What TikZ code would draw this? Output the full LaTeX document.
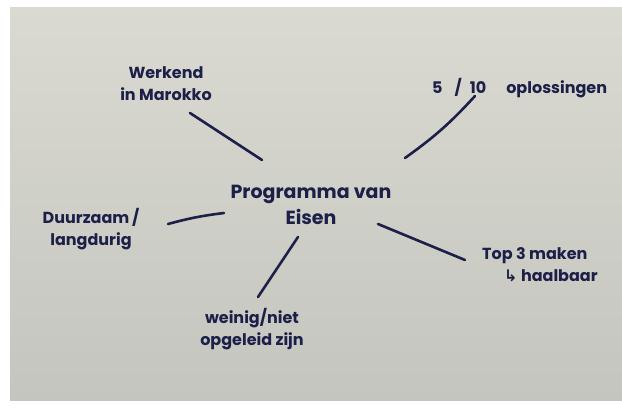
\documentclass[tikz,border=0pt]{standalone}
\usepackage{fontspec}
\setmainfont{Poppins}
\newfontfamily\arrowfont{DejaVu Sans}
\usepackage{tikz}
\definecolor{ink}{RGB}{28, 32, 72}
\definecolor{paperlight}{RGB}{218, 218, 210}
\definecolor{paperdark}{RGB}{196, 197, 190}

\begin{document}
\begin{tikzpicture}[x=1pt, y=-1pt,
        label/.style={text=ink, font=\bfseries\fontsize{16}{22}\selectfont, align=center, inner sep=0pt},
        link/.style={draw=ink, line width=2.6pt, line cap=round}]
            \useasboundingbox (0, 0) rectangle (622, 409);
            \fill[white]                                            (0, 0) rectangle (622, 409);
            \shade[top color=paperlight, bottom color=paperdark]    (10, 8) rectangle (622, 400);
            \node[label, font=\bfseries\fontsize{19}{26}\selectfont] (eisen)   at (311, 205) {Programma van\\Eisen};
            \node[label]                                             (marokko) at (166, 84)  {Werkend\\in Marokko};
            \node[label, anchor=west]                                (oplos)   at (432, 88)  {5\hspace{12pt}/\hspace{8pt}10\hspace{20pt}oplossingen};
            \node[label]                                             (duur)    at (91, 229)  {Duurzaam\,/\\langdurig};
            \node[label]                                             (weinig)  at (252, 329) {weinig/niet\\opgeleid zijn};
            \node[label, anchor=north west, align=left]              (top)     at (482, 247) {Top 3 maken\\\hspace*{22pt}{\arrowfont\char"21B3} haalbaar};
            \coordinate (marokko-a) at (190, 113);  \coordinate (marokko-b) at (262, 160);
            \coordinate (oplos-a)   at (475, 96);   \coordinate (oplos-b)   at (405, 158);
            \coordinate (duur-a)    at (168, 224);  \coordinate (duur-b)    at (224, 213);
            \coordinate (weinig-a)  at (258, 297);  \coordinate (weinig-b)  at (298, 237);
            \coordinate (top-a)     at (465, 260);  \coordinate (top-b)     at (378, 224);
            \draw[link] (marokko-a) -- (marokko-b);
            \draw[link] (oplos-a) to[bend left=6] (oplos-b);
            \draw[link] (duur-a) to[bend left=4] (duur-b);
            \draw[link] (weinig-a) -- (weinig-b);
            \draw[link] (top-a) -- (top-b);
        \end{tikzpicture}
\end{document}
